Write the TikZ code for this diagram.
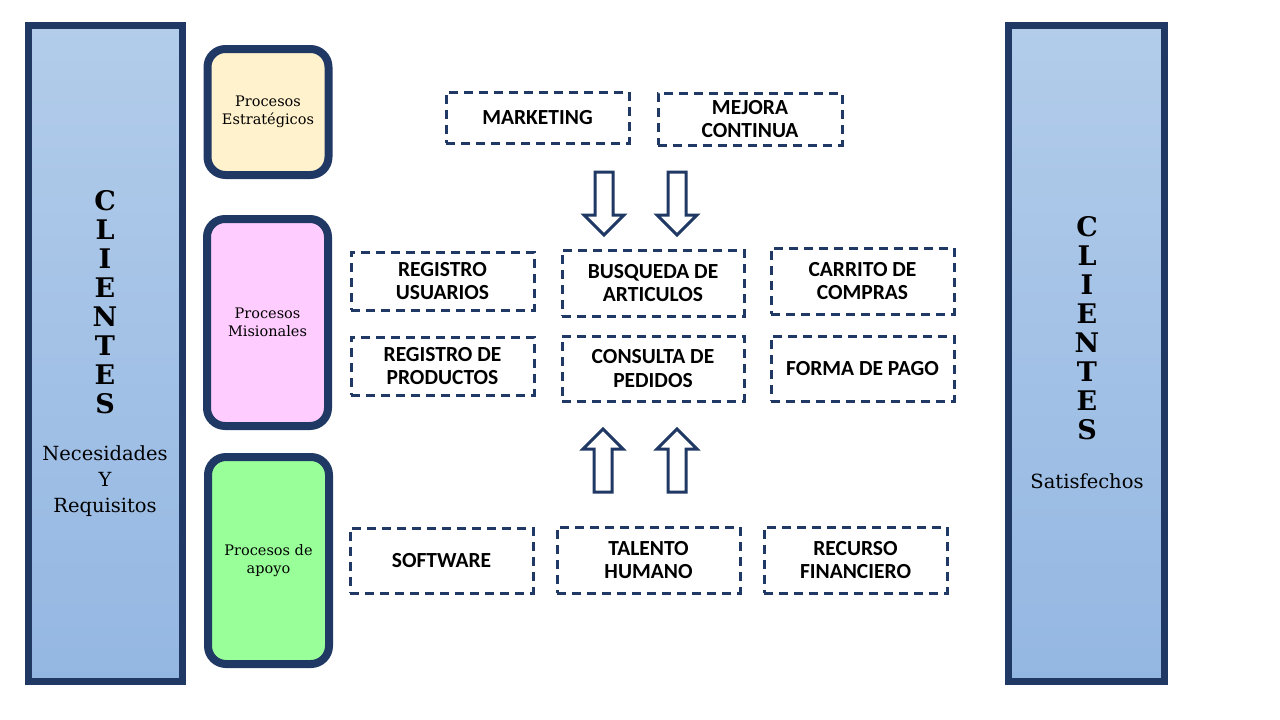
\documentclass[tikz,border=0pt]{standalone}
\usepackage{fontspec}
\setmainfont{Carlito}
\newfontfamily\serifa{DejaVu Serif}
\usepackage{tikz}
\usetikzlibrary{shapes.arrows}
\definecolor{marino}{RGB}{32,56,100}
\definecolor{azulA}{RGB}{178,204,234}
\definecolor{azulB}{RGB}{148,183,226}
\definecolor{crema}{RGB}{255,242,204}
\definecolor{rosa}{RGB}{255,204,255}
\definecolor{verde}{RGB}{153,255,153}

\begin{document}
\begin{tikzpicture}[x=1pt,y=1pt,yscale=-1,
  columna/.style={draw=marino, line width=7pt, top color=azulA, bottom color=azulB, minimum height=656pt, inner sep=0pt},
  proceso/.style={draw=marino, line width=8pt, rounded corners=18pt, minimum width=121pt, align=center, font=\serifa\fontsize{14.5}{18}\selectfont},
  tarea/.style={draw=marino, line width=3pt, dash pattern=on 9pt off 6pt, minimum width=183pt, minimum height=65pt, align=center, font=\bfseries\fontsize{21.5}{23.5}\selectfont},
  flecha/.style={draw=marino, line width=3pt, fill=white, single arrow, single arrow head extend=11pt, single arrow tip angle=90, inner xsep=0pt, inner ysep=7.5pt, minimum height=63pt},
  letras/.style={align=center, font=\serifa\bfseries\fontsize{27}{29}\selectfont}
]
\useasboundingbox (0,0) rectangle (1280,720);

%Shape: Columnas de clientes
\node[columna, minimum width=154pt] (colIzq) at (105.5,353.5) {};
\node[columna, minimum width=156pt] (colDer) at (1086.5,353.5) {};

% Text Node
\node[letras] (clientesIzq) at (105,302) {C\\L\\I\\E\\N\\T\\E\\S};
% Text Node
\node[align=center, font=\serifa\fontsize{19.5}{26}\selectfont] (necesidades) at (105,481) {Necesidades\\Y\\Requisitos};
% Text Node
\node[letras] (clientesDer) at (1087,328) {C\\L\\I\\E\\N\\T\\E\\S};
% Text Node
\node[font=\serifa\fontsize{19.5}{26}\selectfont] (satisfechos) at (1087,481) {Satisfechos};

%Shape: Procesos
\node[proceso, fill=crema, minimum height=126pt] (estrategicos) at (268,112) {Procesos\\Estratégicos};
\node[proceso, fill=rosa, minimum height=207pt] (misionales) at (267.5,322.5) {Procesos\\Misionales};
\node[proceso, fill=verde, minimum height=207pt] (apoyo) at (268.5,560.5) {Procesos de\\apoyo};

%Shape: Estrategicos
\node[tarea, minimum height=51pt] (marketing) at (537.5,117.5) {MARKETING};
\node[tarea, minimum width=184pt, minimum height=52pt] (mejora) at (750,119) {MEJORA\\CONTINUA};

%Shape: Misionales
\node[tarea, minimum height=58pt] (regUsuarios) at (442.5,281) {REGISTRO\\USUARIOS};
\node[tarea, minimum width=182pt, minimum height=66pt] (busqueda) at (653,283) {BUSQUEDA DE\\ARTICULOS};
\node[tarea, minimum height=66pt] (carrito) at (862.5,281) {CARRITO DE\\COMPRAS};
\node[tarea, minimum height=58pt] (regProductos) at (442.5,366) {REGISTRO DE\\PRODUCTOS};
\node[tarea, minimum width=182pt] (consulta) at (653,368.5) {CONSULTA DE\\PEDIDOS};
\node[tarea] (formaPago) at (862.5,368.5) {FORMA DE PAGO};

%Shape: Apoyo
\node[tarea] (software) at (441.5,560.5) {SOFTWARE};
\node[tarea, minimum height=66pt] (talento) at (648.5,560) {TALENTO\\HUMANO};
\node[tarea, minimum height=66pt] (recurso) at (855.5,560) {RECURSO\\FINANCIERO};

%Shape: Flechas
\node[flecha, rotate=-90] (bajaA) at (604,199) {};
\node[flecha, rotate=-90] (bajaB) at (677,199) {};
\node[flecha, rotate=90] (subeA) at (603,465) {};
\node[flecha, rotate=90] (subeB) at (677,465) {};

\end{tikzpicture}
\end{document}
